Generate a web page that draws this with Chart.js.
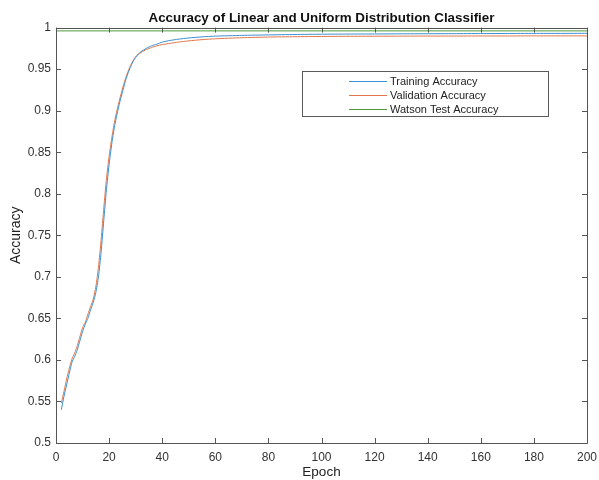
<!DOCTYPE html>
<html>
<head>
<meta charset="utf-8">
<title>Accuracy of Linear and Uniform Distribution Classifier</title>
<script src="https://cdn.jsdelivr.net/npm/chart.js@4/dist/chart.umd.min.js"></script>
<style>
  body { margin: 0; background: #fff; }
</style>
</head>
<body>
<canvas id="accCanvas" width="599" height="480"></canvas>
<script>
// epochs and accuracy per run
const trainEpochs = [2,3,4,5,6,7,8,9,10,11,12,13,14,15,16,17,18,19,20,21,22,23,24,25,26,27,28,29,30,31,32,34,36,38,40,43,46,50,55,60,70,80,90,100,110,120,130,140,150,160,170,180,190,200];
const trainAcc = [0.540,0.556,0.570,0.584,0.597,0.604,0.612,0.623,0.634,0.643,0.650,0.660,0.669,0.681,0.700,0.730,0.768,0.805,0.835,0.860,0.880,0.896,0.910,0.922,0.934,0.944,0.952,0.959,0.964,0.968,0.971,0.975,0.978,0.980,0.9825,0.9845,0.986,0.9875,0.9888,0.9897,0.9906,0.9912,0.9917,0.9920,0.9922,0.9923,0.9925,0.9926,0.9927,0.9928,0.9929,0.9930,0.9930,0.9931];

const valEpochs = [2,3,4,5,6,7,8,9,10,11,12,13,14,15,16,17,18,19,20,21,22,23,24,25,26,27,28,29,30,31,32,34,36,38,40,43,46,50,55,60,70,80,90,100,110,120,130,140,150,160,170,180,190,200];
const valAcc = [0.548,0.562,0.577,0.590,0.601,0.608,0.617,0.628,0.639,0.645,0.655,0.664,0.673,0.688,0.712,0.745,0.783,0.818,0.845,0.867,0.886,0.901,0.914,0.926,0.937,0.946,0.954,0.960,0.965,0.968,0.970,0.9735,0.976,0.978,0.9795,0.981,0.9825,0.984,0.9855,0.9865,0.9878,0.9886,0.9890,0.9893,0.9895,0.9896,0.9897,0.9898,0.9898,0.9899,0.9899,0.9900,0.9900,0.9900];

const testEpochs = [0, 200];
const testAcc = [0.996, 0.996];

const seriesNames = ['Training Accuracy', 'Validation Accuracy', 'Watson Test Accuracy'];
const seriesColors = ['#3b8fcf', '#e0774a', '#4f9c3c'];

const xTicks = [0,20,40,60,80,100,120,140,160,180,200];
const yTicks = [0.5,0.55,0.6,0.65,0.7,0.75,0.8,0.85,0.9,0.95,1];

const FONT = '"Liberation Sans", Arial, Helvetica, sans-serif';
const AXIS_COLOR = '#555555';

function pts(xs, ys) {
  return xs.map((x, i) => ({ x: x, y: ys[i] }));
}

// matlab style box with inward ticks on all four sides
const boxTicks = {
  id: 'boxTicks',
  afterDraw(chart) {
    const ctx = chart.ctx;
    const a = chart.chartArea;
    const xs = chart.scales.x, ys = chart.scales.y;
    const len = 5;
    ctx.save();
    ctx.strokeStyle = AXIS_COLOR;
    ctx.lineWidth = 1;
    ctx.beginPath();
    ctx.rect(Math.round(a.left) + 0.5, Math.round(a.top) + 0.5,
             Math.round(a.right - a.left), Math.round(a.bottom - a.top));
    xTicks.forEach(v => {
      const px = Math.round(xs.getPixelForValue(v)) + 0.5;
      ctx.moveTo(px, a.bottom); ctx.lineTo(px, a.bottom - len);
      ctx.moveTo(px, a.top); ctx.lineTo(px, a.top + len);
    });
    yTicks.forEach(v => {
      const py = Math.round(ys.getPixelForValue(v)) + 0.5;
      ctx.moveTo(a.left, py); ctx.lineTo(a.left + len, py);
      ctx.moveTo(a.right, py); ctx.lineTo(a.right - len, py);
    });
    ctx.stroke();
    ctx.restore();
  }
};

// legend box in the upper right part of the axes
const boxLegend = {
  id: 'boxLegend',
  afterDraw(chart) {
    const ctx = chart.ctx;
    const bx = 302.5, by = 71.5, bw = 246, bh = 45;
    ctx.save();
    ctx.fillStyle = '#fff';
    ctx.fillRect(bx, by, bw, bh);
    ctx.strokeStyle = '#5a5a5a';
    ctx.lineWidth = 1;
    ctx.strokeRect(bx, by, bw, bh);
    ctx.font = '11px ' + FONT;
    ctx.textBaseline = 'middle';
    ctx.fillStyle = '#222';
    chart.data.datasets.forEach((ds, i) => {
      const y = Math.round(by + 9 + i * 14.2) + 0.5;
      ctx.strokeStyle = seriesColors[i];
      ctx.beginPath();
      ctx.moveTo(349, y);
      ctx.lineTo(387, y);
      ctx.stroke();
      ctx.fillText(ds.label, 390, y);
    });
    ctx.restore();
  }
};

function noPad(s) {
  s.paddingLeft = 0; s.paddingRight = 0; s.paddingTop = 0; s.paddingBottom = 0;
}

const lineStyle = { borderWidth: 1, pointRadius: 0, fill: false };

const chart = new Chart(document.getElementById('accCanvas'), {
  type: 'line',
  data: {
    datasets: [
      { ...lineStyle, label: seriesNames[0], data: pts(trainEpochs, trainAcc), borderColor: seriesColors[0], tension: 0.2 },
      { ...lineStyle, label: seriesNames[1], data: pts(valEpochs, valAcc), borderColor: seriesColors[1], tension: 0.2 },
      { ...lineStyle, label: seriesNames[2], data: pts(testEpochs, testAcc), borderColor: seriesColors[2] }
    ]
  },
  options: {
    responsive: false,
    animation: false,
    layout: { padding: { left: 0, right: 12, top: 0, bottom: 0 } },
    plugins: {
      legend: { display: false },
      tooltip: { enabled: false },
      title: {
        display: true,
        text: 'Accuracy of Linear and Uniform Distribution Classifier',
        fullSize: false,
        color: '#111',
        font: { family: FONT, size: 13.4, weight: 'bold' },
        padding: { top: 10, bottom: 1.5 }
      }
    },
    scales: {
      x: {
        type: 'linear',
        min: 0, max: 200,
        grid: { display: false, drawTicks: false },
        border: { display: false },
        afterBuildTicks: s => { s.ticks = xTicks.map(v => ({ value: v })); },
        afterFit: s => { s.height = 37; noPad(s); },
        ticks: { color: '#333', font: { family: FONT, size: 12 }, padding: 7, maxRotation: 0 },
        title: { display: true, text: 'Epoch', color: '#222', font: { family: FONT, size: 13.5 }, padding: { top: 0, bottom: 0 } }
      },
      y: {
        min: 0.5, max: 1,
        grid: { display: false, drawTicks: false },
        border: { display: false },
        afterBuildTicks: s => { s.ticks = yTicks.map(v => ({ value: v })); },
        afterFit: s => { s.width = 56; noPad(s); },
        ticks: {
          color: '#333', font: { family: FONT, size: 12 }, padding: 5,
          callback: v => String(Number(v.toFixed(2)))
        },
        title: { display: true, text: 'Accuracy', color: '#222', font: { family: FONT, size: 14 }, padding: { top: 8, bottom: 0 } }
      }
    }
  },
  plugins: [boxTicks, boxLegend]
});
</script>
</body>
</html>
